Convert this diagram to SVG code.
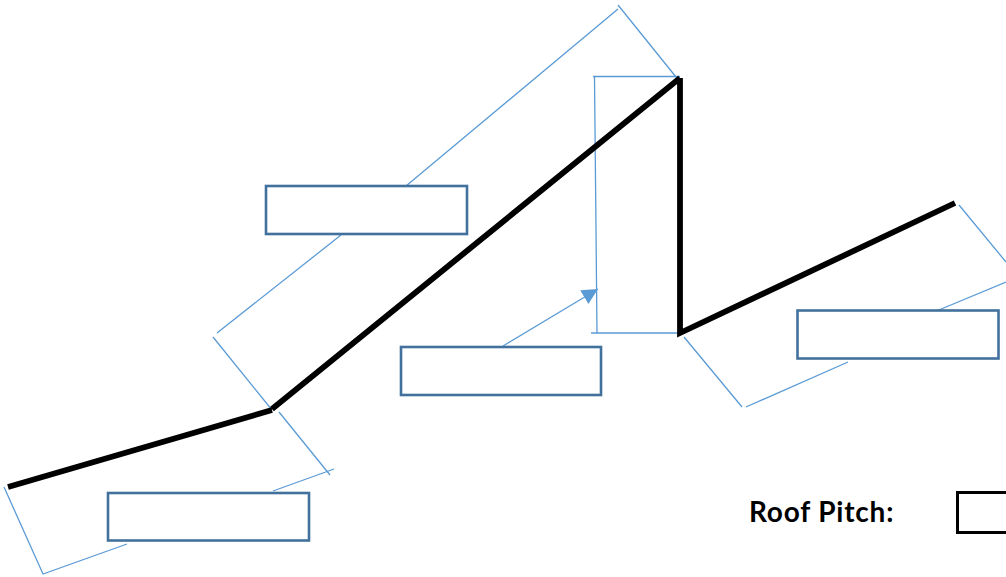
<svg xmlns="http://www.w3.org/2000/svg" width="1006" height="577" viewBox="0 0 1006 577">
<style>
.dim{fill:none;stroke:#5b9bd5;stroke-width:1.3}
.roof{fill:none;stroke:#000;stroke-width:5.8;stroke-linejoin:miter}
.box{fill:#fff;stroke:#41719c;stroke-width:2.6}
text{font-family:Lato,"Liberation Sans",sans-serif;font-weight:700;font-size:28px;letter-spacing:.8px;fill:#000}
</style>
<defs><marker id="ah" markerUnits="userSpaceOnUse" markerWidth="18" markerHeight="18" refX="16" refY="8" orient="auto"><path d="M0 0L16 8L0 16Z" fill="#5b9bd5"/></marker></defs>
<rect width="1006" height="577" fill="#fff"/>
<g id="connectors">
<path class="dim" d="M618 5L676 77M618 9L406 186M341 235L217 333M213 337L272 410M279 412L330 475M334 469L273 491M4 487L43 574L127 544M684 337L742 407M746 407L848 362M959 205L1006 262M1006 282L934 312"/>
<path class="dim" d="M593 76.500H680M594.500 76.500L597 333M591 333H680"/>
<path class="dim" d="M503 346L598 289" marker-end="url(#ah)"/>
<path class="roof" d="M8 487L272 410M272 409L680 78M680 78V333L955 203"/>
</g>
<g id="box-top"><rect class="box" x="266" y="186" width="201" height="48"/></g>
<g id="box-middle"><rect class="box" x="401" y="347" width="200" height="48"/></g>
<g id="box-right"><rect class="box" x="797.500" y="310.500" width="201" height="48"/></g>
<g id="box-bottom"><rect class="box" x="108" y="493" width="201" height="47.500"/></g>
<g id="roof-pitch"><text x="749" y="522">Roof Pitch:</text><rect x="957.500" y="492.500" width="60" height="40" fill="#fff" stroke="#000" stroke-width="3"/></g>
</svg>
